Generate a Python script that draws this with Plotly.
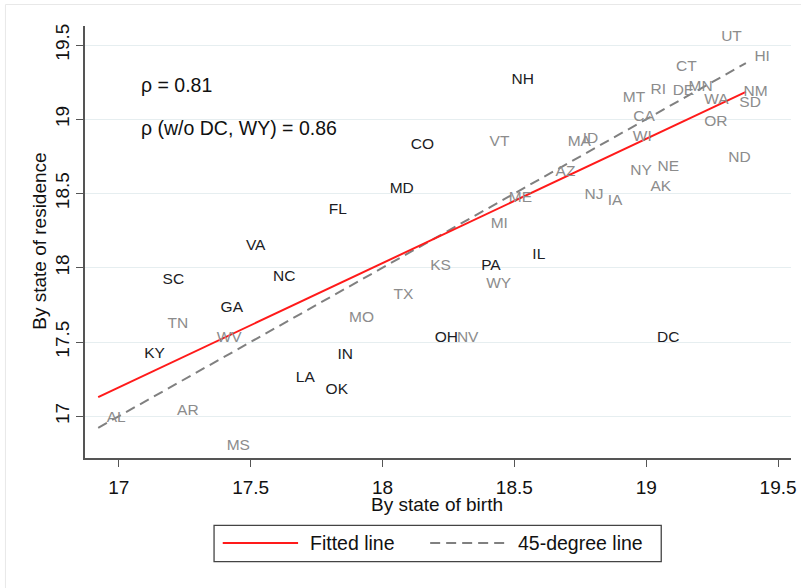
import numpy as np
import plotly.graph_objects as go

states = ["UT","HI","CT","RI","DE","MN","MT","NM","WA","SD","CA","OR","WI","ID","MA","AZ","ND",
          "NY","NE","AK","NJ","IA","CO","VT","MD","ME","MI","IL","KS","PA","WY","TX","VA","SC",
          "NC","GA","TN","MO","WV","KY","IN","LA","OK","AL","AR","MS","OH","NV","DC","FL","NH"]

x_birth = [19.252,19.378,19.081,18.984,19.068,19.128,18.879,19.337,19.188,19.321,18.919,19.188,
           18.917,18.727,18.670,18.624,19.279,18.907,19.011,18.984,18.734,18.822,18.075,18.374,
           17.995,18.447,18.378,18.536,18.149,18.342,18.361,18.010,17.450,17.134,17.553,17.354,
           17.153,17.841,17.339,17.064,17.797,17.639,17.752,16.922,17.189,17.377,18.166,18.250,
           19.009,17.764,18.457]

y_residence = [19.552,19.421,19.350,19.197,19.190,19.219,19.139,19.182,19.130,19.112,19.017,18.984,
               18.883,18.867,18.843,18.641,18.738,18.654,18.677,18.546,18.491,18.450,18.827,18.843,
               18.529,18.468,18.293,18.082,18.008,18.008,17.890,17.818,18.143,17.919,17.934,17.728,
               17.620,17.661,17.526,17.421,17.409,17.257,17.178,16.988,17.032,16.797,17.526,17.526,
               17.526,18.390,19.264]

dark_label_states = ["NH","CO","MD","FL","VA","SC","NC","GA","KY","IN","LA","OK","PA","IL","OH","DC"]

tick_vals = [17, 17.5, 18, 18.5, 19, 19.5]
tick_text = ["17", "17.5", "18", "18.5", "19", "19.5"]

rho_texts = ["ρ = 0.81", "ρ (w/o DC, WY) = 0.86"]
rho_x = [17.083, 17.083]
rho_y = [19.231, 18.939]

legend_names = ["Fitted line", "45-degree line"]

FONT = "Liberation Sans, Arial, sans-serif"
DARK = "#1c1c24"
GRAY = "#8c8c8c"

xs = np.array(x_birth)
ys = np.array(y_residence)
slope, intercept = np.polyfit(xs, ys, 1)
x_line = np.array([xs.min(), xs.max()])

label_colors = [DARK if s in dark_label_states else GRAY for s in states]

fig = go.Figure()

fig.add_trace(go.Scatter(
    x=x_line, y=x_line, mode="lines",
    line=dict(color="#808080", width=2, dash="10px,6px"),
    showlegend=False, hoverinfo="skip"))

fig.add_trace(go.Scatter(
    x=x_line, y=intercept + slope * x_line, mode="lines",
    line=dict(color="#ff1a1a", width=2),
    showlegend=False, hoverinfo="skip"))

fig.add_trace(go.Scatter(
    x=x_birth, y=y_residence, mode="markers+text",
    text=states, textposition="middle right",
    textfont=dict(family=FONT, size=15.5, color=label_colors),
    marker=dict(size=12, color="rgba(0,0,0,0)"),
    showlegend=False, hoverinfo="skip"))

annotations = []
for t, xx, yy in zip(rho_texts, rho_x, rho_y):
    annotations.append(dict(x=xx, y=yy, xref="x", yref="y", text=t, showarrow=False,
                            xanchor="left", yanchor="middle", xshift=-2,
                            font=dict(family=FONT, size=19.5, color="#111111")))

# axis titles
annotations.append(dict(x=0.4988, y=-0.108, xref="paper", yref="paper", text="By state of birth",
                        showarrow=False, xanchor="center", yanchor="middle",
                        font=dict(family=FONT, size=19, color="#111111")))
annotations.append(dict(x=-0.0638, y=0.5027, xref="paper", yref="paper", text="By state of residence",
                        showarrow=False, xanchor="center", yanchor="middle", textangle=-90,
                        font=dict(family=FONT, size=19, color="#111111")))

# legend texts
annotations.append(dict(x=0.3188, y=-0.1966, xref="paper", yref="paper", text=legend_names[0],
                        showarrow=False, xanchor="left", yanchor="middle", xshift=-2,
                        font=dict(family=FONT, size=19.5, color="#111111")))
annotations.append(dict(x=0.6129, y=-0.1966, xref="paper", yref="paper", text=legend_names[1],
                        showarrow=False, xanchor="left", yanchor="middle", xshift=-2,
                        font=dict(family=FONT, size=19.5, color="#111111")))

shapes = [
    # legend box
    dict(type="rect", xref="paper", yref="paper", x0=0.1828, x1=0.8162, y0=-0.2399, y1=-0.1559,
         line=dict(color="#444444", width=1.3), fillcolor="white"),
    dict(type="line", xref="paper", yref="paper", x0=0.1951, x1=0.3018, y0=-0.1966, y1=-0.1966,
         line=dict(color="#ff1a1a", width=2)),
    dict(type="line", xref="paper", yref="paper", x0=0.4889, x1=0.5963, y0=-0.1966, y1=-0.1966,
         line=dict(color="#808080", width=2, dash="10px,6px")),
    # faint outer frame (top and left)
    dict(type="line", xref="paper", yref="paper", x0=-0.1127, x1=1.02, y0=1.0497, y1=1.0497,
         line=dict(color="#e8e8e8", width=1)),
    dict(type="line", xref="paper", yref="paper", x0=-0.1127, x1=-0.1127, y0=-0.31, y1=1.0497,
         line=dict(color="#e8e8e8", width=1)),
]

fig.update_layout(
    width=801, height=588,
    margin=dict(l=85, r=10, t=26, b=130, autoexpand=False),
    paper_bgcolor="white", plot_bgcolor="white",
    showlegend=False,
    annotations=annotations,
    shapes=shapes,
    font=dict(family=FONT, size=19, color="#111111"),
)

fig.update_xaxes(
    range=[16.872, 19.549], tickvals=tick_vals, ticktext=tick_text,
    automargin=False,
    showgrid=False, zeroline=False,
    showline=True, linecolor="#555555", linewidth=1.5,
    ticks="outside", ticklen=7, tickwidth=1.3, tickcolor="#555555",
    tickfont=dict(family=FONT, size=19, color="#111111"),
    ticklabelstandoff=4,
)
fig.update_yaxes(
    range=[16.719, 19.628], tickvals=tick_vals, ticktext=tick_text,
    automargin=False,
    showgrid=True, gridcolor="#e6eef0", gridwidth=1.2, zeroline=False,
    showline=True, linecolor="#555555", linewidth=1.5,
    ticks="outside", ticklen=7, tickwidth=1.3, tickcolor="#555555",
    tickangle=-90,
    tickfont=dict(family=FONT, size=19, color="#111111"),
)

fig.write_html("out.html")
